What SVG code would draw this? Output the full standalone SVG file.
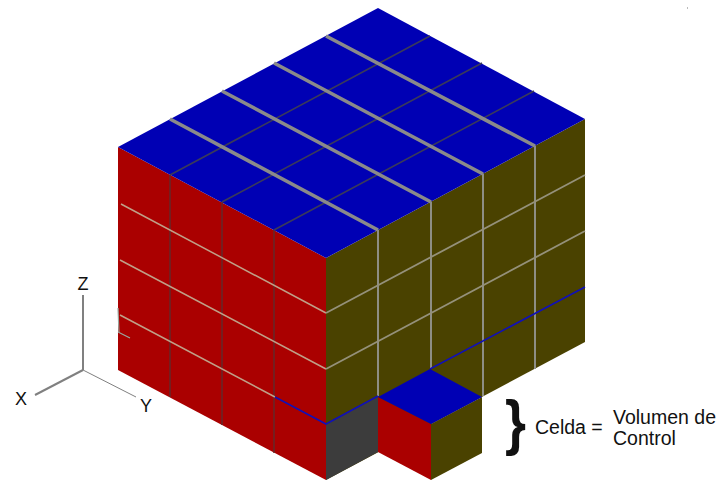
<svg xmlns="http://www.w3.org/2000/svg" width="721" height="482" viewBox="0 0 721 482">
<style>
.blue{fill:#0000b4}.red{fill:#aa0000}.olive{fill:#4a4200}.dark{fill:#3c3c3c}
.thick{stroke:#8a8a8a;stroke-width:3.6;fill:none}
.thin{stroke:#3a3a5a;stroke-width:1.6;fill:none}
.vred{stroke:#64282a;stroke-width:1.5;fill:none}
.lred{stroke:#c0a088;stroke-width:1.5;fill:none}
.vol{stroke:#8e8e84;stroke-width:2;fill:none}
.lol{stroke:#95917a;stroke-width:1.8;fill:none}
.bl{stroke:#1010b8;stroke-width:1.6;fill:none}
.ax{stroke:#808080;fill:none}
text{font-family:"Liberation Sans",Arial,sans-serif;fill:#111}
</style>
<rect width="721" height="482" fill="#fff"/>
<g id="cube">
<polygon class="red" points="118,147 326,258 326,480 118,370"/>
<polygon class="olive" points="326,258 585,119 585,342 326,480"/>
<polygon class="blue" points="118,147 378,8 585,119 326,258"/>
<polygon class="dark" points="326,424 378,396 378,452 326,480"/>
</g>
<g id="connectors">
<path class="thin" d="M170,175L430,36M222,202L482,63M274,230L534,91"/>
<path class="thick" d="M170,119L378,230M222,91L431,202M274,63L483,174M326,36L535,146"/>
<path class="vred" d="M170,175V397M222,202V425M274,230V453"/>
<path class="lred" d="M121,204L326,313M120,260L326,369M120,315L275,397"/>
<path class="vol" d="M378,230V396M431,202V369M483,174V396M535,146V369"/>
<path class="lol" d="M326,313L585,175M326,369L585,231"/>
<path class="bl" d="M275,397L326,424L378,396M430,369L585,287"/>
<path d="M118,308L119,333M118,332L130,338" stroke="#9aa8a0" stroke-width="1.2" fill="none"/>
<path d="M687,8h1" stroke="#777" stroke-width="1" fill="none"/>
</g>
<g id="cell">
<polygon class="red" points="378,397 431,424 431,480 378,452"/>
<polygon class="olive" points="431,424 482,397 482,453 431,480"/>
<polygon class="blue" points="378,397 430,369 482,397 431,424"/>
</g>
<g id="axes">
<path class="ax" stroke-width="2" d="M83,370V295"/>
<path class="ax" stroke-width="2" d="M83,370L35,395"/>
<path class="ax" stroke-width="1" d="M83,370L136,397"/>
<text x="83" y="290" font-size="18" text-anchor="middle">Z</text>
<text x="21" y="405" font-size="18" text-anchor="middle">X</text>
<text x="146" y="412" font-size="18" text-anchor="middle">Y</text>
</g>
<g id="label">
<text transform="translate(505,443) scale(1,1.12)" font-size="54" font-weight="bold">}</text>
<text x="535" y="434" font-size="19.5">Celda =</text>
<text x="613" y="424" font-size="19.5">Volumen de</text>
<text x="613" y="445" font-size="19.5">Control</text>
</g>
</svg>
